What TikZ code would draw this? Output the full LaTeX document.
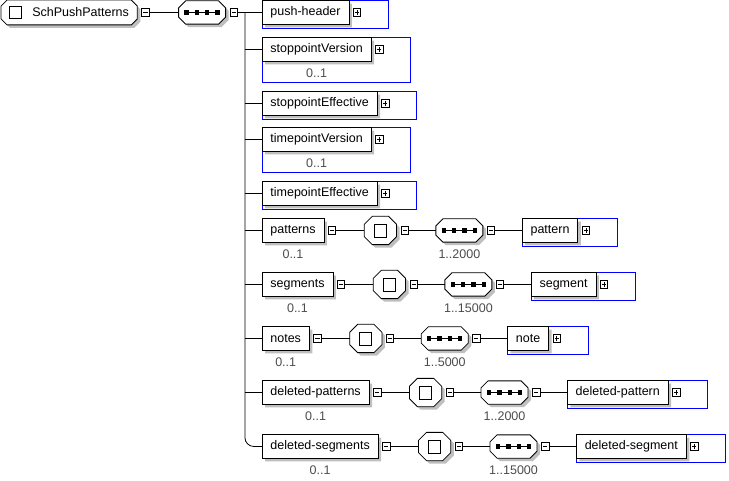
\documentclass[tikz,border=0pt]{standalone}
\usepackage{fontspec}
\setmainfont{Liberation Sans}
\usetikzlibrary{positioning,backgrounds}

% box with cut corners and a grey shadow, for elements, root and compositors
\makeatletter
\pgfkeys{/pgf/octa cut/.initial=0pt}
\def\octapath#1#2{%
  \southwest \edef\octxa{\the\pgf@x}\edef\octya{\the\pgf@y}%
  \northeast \edef\octxd{\the\pgf@x}\edef\octyd{\the\pgf@y}%
  \pgfmathsetlengthmacro\octxa{\octxa+#1}%
  \pgfmathsetlengthmacro\octxd{\octxd+#1}%
  \pgfmathsetlengthmacro\octya{\octya+#2}%
  \pgfmathsetlengthmacro\octyd{\octyd+#2}%
  \pgfmathsetlengthmacro\octc{\pgfkeysvalueof{/pgf/octa cut}}%
  \pgfmathsetlengthmacro\octxb{\octxa+\octc}%
  \pgfmathsetlengthmacro\octxc{\octxd-\octc}%
  \pgfmathsetlengthmacro\octyb{\octya+\octc}%
  \pgfmathsetlengthmacro\octyc{\octyd-\octc}%
  \pgfpathmoveto{\pgfqpoint{\octxb}{\octya}}%
  \pgfpathlineto{\pgfqpoint{\octxc}{\octya}}%
  \pgfpathlineto{\pgfqpoint{\octxd}{\octyb}}%
  \pgfpathlineto{\pgfqpoint{\octxd}{\octyc}}%
  \pgfpathlineto{\pgfqpoint{\octxc}{\octyd}}%
  \pgfpathlineto{\pgfqpoint{\octxb}{\octyd}}%
  \pgfpathlineto{\pgfqpoint{\octxa}{\octyc}}%
  \pgfpathlineto{\pgfqpoint{\octxa}{\octyb}}%
  \pgfpathclose}
\pgfdeclareshape{octabox}{
  \inheritsavedanchors[from=rectangle]
  \inheritanchorborder[from=rectangle]
  \inheritanchor[from=rectangle]{center}
  \inheritanchor[from=rectangle]{north}
  \inheritanchor[from=rectangle]{south}
  \inheritanchor[from=rectangle]{east}
  \inheritanchor[from=rectangle]{west}
  \inheritanchor[from=rectangle]{north east}
  \inheritanchor[from=rectangle]{north west}
  \inheritanchor[from=rectangle]{south east}
  \inheritanchor[from=rectangle]{south west}
  \behindbackgroundpath{\pgfscope\pgfsetfillcolor{black!25}\octapath{3pt}{-3pt}\pgfusepath{fill}\endpgfscope}
  \backgroundpath{\octapath{0pt}{0pt}}
}
\makeatother

\tikzset{
  elem/.style={octabox,draw,fill=white,inner xsep=8pt,inner ysep=0pt,minimum height=23pt},
  rootelem/.style={octabox,/pgf/octa cut=6pt,draw,fill=white,
    inner sep=0pt,minimum width=135.5pt,minimum height=24pt},
  tickbox/.style={draw,fill=white,minimum size=12pt,inner sep=0pt},
  optframe/.style={draw=blue},
  card/.style={text=black!70},
  collapse/.style={draw,fill=white,minimum size=7.5pt,inner sep=0pt,
    path picture={\draw ([xshift=1.7pt]path picture bounding box.west)
      -- ([xshift=-1.7pt]path picture bounding box.east);}},
  expand/.style={draw,fill=white,minimum size=7.5pt,inner sep=0pt,
    path picture={\draw ([xshift=1.7pt]path picture bounding box.west)
      -- ([xshift=-1.7pt]path picture bounding box.east);
      \draw ([yshift=1.7pt]path picture bounding box.south)
      -- ([yshift=-1.7pt]path picture bounding box.north);}},
  seqbox/.style={octabox,/pgf/octa cut=7pt,draw,fill=white,
    inner sep=0pt,minimum width=46.2pt,minimum height=22.5pt,
    path picture={\draw[line width=1.4pt] ([xshift=8pt]path picture bounding box.west)
      -- ([xshift=-8pt]path picture bounding box.east);
      \foreach \d in {-15.5,-5.17,5.17,15.5}
        \fill[black] ([xshift=\d pt]path picture bounding box.center) +(-2.2pt,-2.2pt) rectangle +(2.2pt,2.2pt);}},
  choicebox/.style={octabox,/pgf/octa cut=8pt,draw,fill=white,
    inner sep=0pt,minimum width=31.5pt,minimum height=27.5pt,
    path picture={\draw ([shift={(-6pt,-6.5pt)}]path picture bounding box.center) rectangle ++(12pt,13pt);}}
}

\begin{document}
\begin{tikzpicture}[x=1pt,y=-1pt,line width=0.8pt,font=\fontsize{12.5}{14}\selectfont]
\useasboundingbox (0,0) rectangle (729,481);

\node[rootelem,anchor=west] (root) at (1,12.5) {\hspace*{23pt}SchPushPatterns};
\node[tickbox] (rootmark) at ([xshift=14pt]root.west) {};
\node[collapse,right=4pt of root] (rootminus) {};
\node[seqbox,right=29pt of rootminus] (seq) {};
\node[collapse,right=4pt of seq] (seqminus) {};
\coordinate[right=7pt of seqminus] (trunk);
\draw (rootminus) -- (seq);

\node[elem,anchor=west] (push-header) at (262,12.5) {push-header};
\node[expand,right=4pt of push-header] (push-header-plus) {};
\node[elem,anchor=west] (stoppointVersion) at (262,49.5) {stoppointVersion};
\node[expand,right=4pt of stoppointVersion] (stoppointVersion-plus) {};
\node[card] (stoppointVersion-card) at ([yshift=-12pt]stoppointVersion.south) {0..1};
\node[elem,anchor=west] (stoppointEffective) at (262,103.5) {stoppointEffective};
\node[expand,right=4pt of stoppointEffective] (stoppointEffective-plus) {};
\node[elem,anchor=west] (timepointVersion) at (262,139.5) {timepointVersion};
\node[expand,right=4pt of timepointVersion] (timepointVersion-plus) {};
\node[card] (timepointVersion-card) at ([yshift=-12pt]timepointVersion.south) {0..1};
\node[elem,anchor=west] (timepointEffective) at (262,193.5) {timepointEffective};
\node[expand,right=4pt of timepointEffective] (timepointEffective-plus) {};

\begin{scope}[on background layer]
\draw[optframe] (push-header.north west) rectangle ([xshift=39pt,yshift=-4pt]push-header.south east);
\draw[optframe] (stoppointVersion.north west) rectangle ([xshift=39pt,yshift=-21pt]stoppointVersion.south east);
\draw[optframe] (stoppointEffective.north west) rectangle ([xshift=39pt,yshift=-4pt]stoppointEffective.south east);
\draw[optframe] (timepointVersion.north west) rectangle ([xshift=39pt,yshift=-21pt]timepointVersion.south east);
\draw[optframe] (timepointEffective.north west) rectangle ([xshift=39pt,yshift=-4pt]timepointEffective.south east);
\end{scope}

\foreach \n/\y/\m/\c in {patterns/230.5/2000/pattern,segments/284.5/15000/segment,
    notes/338.5/5000/note,deleted-patterns/392.5/2000/deleted-pattern,
    deleted-segments/446.5/15000/deleted-segment}
{
  \node[elem,anchor=west] (\n) at (262,\y) {\n};
  \node[card] (\n-card) at ([yshift=-12pt]\n.south) {0..1};
  \node[collapse,right=4pt of \n] (\n-minus) {};
  \node[choicebox,right=28pt of \n-minus] (\n-choice) {};
  \node[collapse,right=4pt of \n-choice] (\n-choice-minus) {};
  \node[seqbox,right=27pt of \n-choice-minus] (\n-seq) {};
  \node[card] (\n-seq-card) at ([yshift=-12pt]\n-seq.south) {1..\m};
  \node[collapse,right=4pt of \n-seq] (\n-seq-minus) {};
  \node[elem,right=27pt of \n-seq-minus] (\c) {\c};
  \node[expand,right=4pt of \c] (\c-plus) {};
  \draw (\n-minus) -- (\n-choice) (\n-choice-minus) -- (\n-seq) (\n-seq-minus) -- (\c);
  \begin{scope}[on background layer]
  \draw[optframe] (\c.north west) rectangle ([xshift=39pt,yshift=-4pt]\c.south east);
  \end{scope}
}

\draw (seqminus) -- (push-header);
\foreach \n in {stoppointVersion,stoppointEffective,timepointVersion,timepointEffective,
    patterns,segments,notes,deleted-patterns}
  \draw (trunk |- \n.west) -- (\n.west);
\draw[rounded corners=9pt] (trunk) -- (trunk |- deleted-segments.west) -- (deleted-segments.west);
\end{tikzpicture}
\end{document}
